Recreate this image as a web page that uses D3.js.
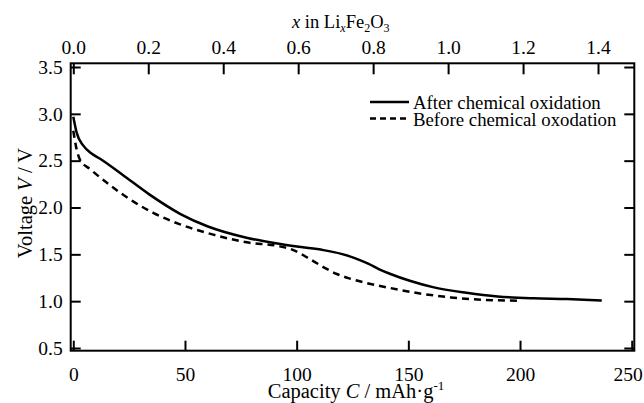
<!DOCTYPE html>
<html>
<head>
<meta charset="utf-8">
<script src="https://cdn.jsdelivr.net/npm/d3@7"></script>
<style>
  body { margin: 0; background: #fff; }
  svg { display: block; font-family: "Liberation Serif", "Times New Roman", serif; }
</style>
</head>
<body>
<svg width="644" height="403"></svg>
<script>
// capacity (mAh/g) vs voltage (V)
const afterCap = [0, 1.5, 4.5, 8, 12, 22, 34, 48, 60, 78, 90, 101, 112, 120, 126, 132, 137, 142, 151, 161, 176, 190, 206, 221, 236.6]
const afterV   = [2.97, 2.80, 2.66, 2.58, 2.52, 2.35, 2.14, 1.93, 1.80, 1.675, 1.62, 1.58, 1.545, 1.505, 1.46, 1.40, 1.34, 1.29, 1.215, 1.15, 1.09, 1.05, 1.03, 1.022, 1.007]
const beforeCap = [0, 1.5, 3, 7.5, 15, 25.4, 35.8, 47.8, 62.7, 77.6, 92.5, 98, 103, 108, 113, 118, 124, 131, 142, 154, 169, 184, 199.2]
const beforeV   = [2.82, 2.62, 2.51, 2.41, 2.265, 2.086, 1.943, 1.82, 1.71, 1.628, 1.585, 1.55, 1.49, 1.42, 1.35, 1.29, 1.24, 1.195, 1.14, 1.087, 1.04, 1.014, 1.005]
const capTicks = [0, 50, 100, 150, 200, 250]
const xTicks = [0, 0.2, 0.4, 0.6, 0.8, 1.0, 1.2, 1.4]
const vTicks = [0.5, 1.0, 1.5, 2.0, 2.5, 3.0, 3.5]
const capPerLi = 167.8 // mAh/g for one Li per Fe2O3

const svg = d3.select('svg')

const x = d3.scaleLinear().domain([0, 250]).range([73.3, 631.7])
const xTop = d3.scaleLinear().domain([0, 250 / capPerLi]).range(x.range())
const y = d3.scaleLinear().domain([0.5, 3.5]).range([348, 67])

const frame = { left: 70.7, right: 634.3, top: 63.3, bottom: 350.7 }

const fmt1 = d3.format('.1f')

function styleAxis(g) {
    g.select('.domain').remove()
    g.selectAll('.tick line').attr('stroke', '#000').attr('stroke-width', 2)
    g.selectAll('.tick text').attr('fill', '#000').attr('font-size', 19.5)
        .attr('font-family', '"Liberation Serif", serif')
}

const bottomAxis = svg.append('g')
    .attr('transform', `translate(0,${frame.bottom})`)
    .call(d3.axisBottom(x).tickValues(capTicks).tickSizeInner(-10).tickSizeOuter(0).tickPadding(16))
    .call(styleAxis)
// last label sits at the window edge
bottomAxis.selectAll('.tick text').filter(d => d === 250).attr('dx', -4)

svg.append('g')
    .attr('transform', `translate(0,${frame.top})`)
    .call(d3.axisTop(xTop).tickValues(xTicks).tickFormat(fmt1).tickSizeInner(-11).tickSizeOuter(0).tickPadding(9))
    .call(styleAxis)

svg.append('g')
    .attr('transform', `translate(${frame.left},0)`)
    .call(d3.axisLeft(y).tickValues(vTicks).tickFormat(fmt1).tickSizeInner(-10).tickSizeOuter(0).tickPadding(8))
    .call(styleAxis)

svg.append('g')
    .attr('transform', `translate(${frame.right},0)`)
    .call(d3.axisRight(y).tickValues(vTicks).tickFormat('').tickSizeInner(-10).tickSizeOuter(0))
    .call(styleAxis)

svg.append('rect')
    .attr('x', frame.left).attr('y', frame.top)
    .attr('width', frame.right - frame.left).attr('height', frame.bottom - frame.top)
    .attr('fill', 'none').attr('stroke', '#000').attr('stroke-width', 2)

const line = d3.line()
    .x(d => x(d[0]))
    .y(d => y(d[1]))
    .curve(d3.curveMonotoneX)

svg.append('path')
    .datum(d3.zip(afterCap, afterV))
    .attr('d', line)
    .attr('fill', 'none').attr('stroke', '#000').attr('stroke-width', 2.5)

svg.append('path')
    .datum(d3.zip(beforeCap, beforeV))
    .attr('d', line)
    .attr('fill', 'none').attr('stroke', '#000').attr('stroke-width', 2.5)
    .attr('stroke-dasharray', '7,5')

// legend
const legend = svg.append('g').attr('font-size', 18.8)
const items = [
    { label: 'After chemical oxidation', dash: null },
    { label: 'Before chemical oxodation', dash: '6,4' }
]
items.forEach((it, i) => {
    const ly = 102 + i * 16.5
    legend.append('line')
        .attr('x1', 370).attr('x2', 409).attr('y1', ly).attr('y2', ly)
        .attr('stroke', '#000').attr('stroke-width', 2.5)
        .attr('stroke-dasharray', it.dash)
    legend.append('text')
        .attr('x', 413).attr('y', ly + 7)
        .text(it.label)
})

// axis titles
const bottomTitle = svg.append('text')
    .attr('x', 356).attr('y', 398)
    .attr('text-anchor', 'middle').attr('font-size', 20.5)
bottomTitle.append('tspan').text('Capacity ')
bottomTitle.append('tspan').attr('font-style', 'italic').text('C')
bottomTitle.append('tspan').text(' / mAh·g')
bottomTitle.append('tspan').attr('font-size', 13).attr('dy', -8).text('-1')

const leftTitle = svg.append('text')
    .attr('transform', 'translate(32,203) rotate(-90)')
    .attr('text-anchor', 'middle').attr('font-size', 20.5)
leftTitle.append('tspan').text('Voltage ')
leftTitle.append('tspan').attr('font-style', 'italic').text('V')
leftTitle.append('tspan').text(' / V')

const topTitle = svg.append('text')
    .attr('x', 292).attr('y', 28)
    .attr('font-size', 18.5)
topTitle.append('tspan').attr('font-style', 'italic').text('x')
topTitle.append('tspan').text(' in Li')
topTitle.append('tspan').attr('font-style', 'italic').attr('font-size', 12).attr('dy', 4).text('x')
topTitle.append('tspan').attr('dy', -4).text('Fe')
topTitle.append('tspan').attr('font-size', 12).attr('dy', 4).text('2')
topTitle.append('tspan').attr('dy', -4).text('O')
topTitle.append('tspan').attr('font-size', 12).attr('dy', 4).text('3')
</script>
</body>
</html>
